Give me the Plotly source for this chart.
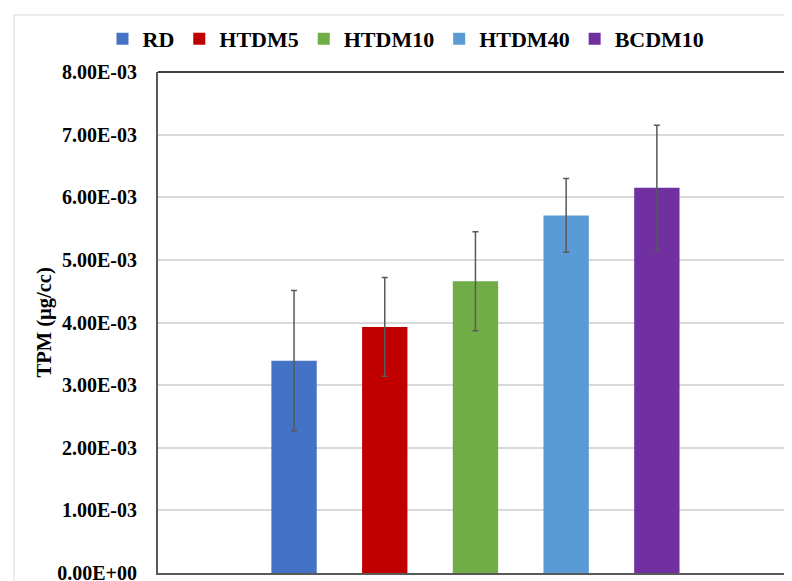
import plotly.graph_objects as go

series = ["RD", "HTDM5", "HTDM10", "HTDM40", "BCDM10"]
means = [3.39e-3, 3.93e-3, 4.66e-3, 5.71e-3, 6.15e-3]
errors = [1.12e-3, 0.79e-3, 0.79e-3, 0.59e-3, 1.00e-3]
colors = ["#4472C4", "#C00000", "#70AD47", "#5B9BD5", "#7030A0"]
tick_vals = [0, 1e-3, 2e-3, 3e-3, 4e-3, 5e-3, 6e-3, 7e-3, 8e-3]
tick_text = ["0.00E+00", "1.00E-03", "2.00E-03", "3.00E-03", "4.00E-03",
             "5.00E-03", "6.00E-03", "7.00E-03", "8.00E-03"]
y_title = "TPM (µg/cc)"

FONT = "Liberation Serif, Times New Roman, serif"
OFF = 8  # page body margin

fig = go.Figure()
for i, (name, m, e, c) in enumerate(zip(series, means, errors, colors)):
    fig.add_trace(go.Bar(
        x=[i + 1], y=[m], name=name, width=0.5,
        marker=dict(color=c, line=dict(width=0)),
        error_y=dict(type="data", array=[e], visible=True,
                     color="#595959", thickness=1.5, width=3),
    ))

W, H = 792 - OFF, 581
L, R, T = 158 - OFF, 0, 72 - OFF
plot_bottom = 573 - OFF
B = H - plot_bottom
pw, ph = W - L - R, H - T - B

fig.update_layout(
    width=W, height=H,
    margin=dict(l=L, r=R, t=T, b=B, autoexpand=False),
    paper_bgcolor="white", plot_bgcolor="white",
    font=dict(family=FONT, color="black"),
    showlegend=True,
    legend=dict(orientation="h", x=(406 - 158) / pw, xanchor="center",
                yref="container", y=1 - (39 - OFF) / H, yanchor="middle",
                font=dict(family=FONT, size=22, color="black", weight="bold"),
                itemwidth=30, bgcolor="rgba(0,0,0,0)"),
    barmode="overlay",
    xaxis=dict(range=[-0.5, 6.49], showticklabels=False, showgrid=False,
               zeroline=False, showline=True, linecolor="#595959",
               linewidth=2, ticks=""),
    yaxis=dict(range=[0, 8e-3], tickvals=tick_vals, ticktext=tick_text,
               showgrid=True, gridcolor="#d9d9d9", gridwidth=1.5,
               zeroline=False, showline=True, linecolor="#595959",
               linewidth=2, ticks="", ticklabelstandoff=15,
               ticklabeloverflow="allow",
               tickfont=dict(family=FONT, size=20, color="black", weight="bold")),
    shapes=[
        dict(type="line", xref="paper", yref="paper", x0=0, x1=1, y0=1, y1=1,
             line=dict(color="black", width=1.5)),
        dict(type="rect", xref="paper", yref="paper",
             x0=(14 - 158) / pw, x1=1.1, y0=-0.2, y1=(573 - 15) / ph,
             line=dict(color="#d9d9d9", width=1), layer="below"),
    ],
    annotations=[
        dict(text="<b>" + y_title + "</b>", xref="paper", yref="paper",
             x=(44 - 158) / pw, y=0.5, xanchor="center", yanchor="middle",
             textangle=-90, showarrow=False,
             font=dict(family=FONT, size=20.5, color="black")),
    ],
)

fig.write_html("out.html")
